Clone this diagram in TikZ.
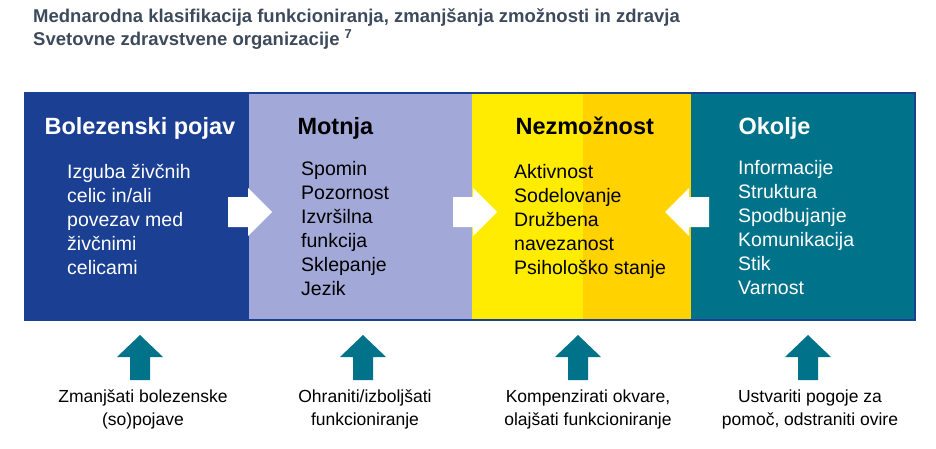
\documentclass[tikz,border=0pt]{standalone}
\usepackage{fontspec}
\setmainfont{Liberation Sans}
\definecolor{dblue}{HTML}{1A3F93}
\definecolor{lav}{HTML}{A2A9D8}
\definecolor{yel}{HTML}{FFEC00}
\definecolor{gold}{HTML}{FFD200}
\definecolor{teal}{HTML}{00738A}
\definecolor{titlec}{HTML}{3D4A5C}
\begin{document}
\begin{tikzpicture}[x=1pt,y=-1pt,
  head/.style={anchor=base west,font=\fontsize{23.5}{26}\selectfont\bfseries},
  body/.style={anchor=north west,align=left,font=\fontsize{19.5}{24}\selectfont,inner sep=0},
  foot/.style={align=center,font=\fontsize{17.5}{23}\selectfont,inner sep=0,anchor=north},
  uparrow/.pic={\fill[teal] (-23,22)--(0,0)--(23,22)--(10,22)--(10,45)--(-10,45)--(-10,22)--cycle;},
  warrow/.pic={\fill[white] (0,-15)--(20,-15)--(20,-24)--(44,0)--(20,24)--(20,15)--(0,15)--cycle;}]
\useasboundingbox (0,0) rectangle (936,449);
\node[anchor=north west,align=left,text=titlec,font=\fontsize{18.5}{23}\selectfont\bfseries,inner sep=0] (title) at (33,8)
  {Mednarodna klasifikacija funkcioniranja, zmanjšanja zmožnosti in zdravja\\Svetovne zdravstvene organizacije \textsuperscript{7}};
\fill[dblue] (25,93) rectangle (249,320);
\fill[lav] (249,93) rectangle (472,320);
\fill[yel] (472,93) rectangle (583,320);
\fill[gold] (583,93) rectangle (691,320);
\fill[teal] (691,93) rectangle (915,320);
\draw[dblue,line width=1.5] (25,93) rectangle (915,320);
\node[head,text=white] (h1) at (41,135) {Bolezenski pojav};
\node[head] (h2) at (294,135) {Motnja};
\node[head] (h3) at (512,135) {Nezmožnost};
\node[head,text=white] (h4) at (735,135) {Okolje};
\node[body,text=white] (b1) at (67,164) {Izguba živčnih\\celic in/ali\\povezav med\\živčnimi\\celicami};
\node[body] (b2) at (301,161) {Spomin\\Pozornost\\Izvršilna\\funkcija\\Sklepanje\\Jezik};
\node[body] (b3) at (514,164) {Aktivnost\\Sodelovanje\\Družbena\\navezanost\\Psihološko stanje};
\node[body,text=white] (b4) at (738,160) {Informacije\\Struktura\\Spodbujanje\\Komunikacija\\Stik\\Varnost};
\pic at (228,212) {warrow};
\pic at (453,212) {warrow};
\pic[xscale=-1] at (709,212) {warrow};
\foreach \x in {140,363,578,808} \pic at (\x,335) {uparrow};
\node[foot] (f1) at (143,390) {Zmanjšati bolezenske\\(so)pojave};
\node[foot] (f2) at (365,390) {Ohraniti/izboljšati\\funkcioniranje};
\node[foot] (f3) at (588,390) {Kompenzirati okvare,\\olajšati funkcioniranje};
\node[foot] (f4) at (810,390) {Ustvariti pogoje za\\pomoč, odstraniti ovire};
\end{tikzpicture}
\end{document}
